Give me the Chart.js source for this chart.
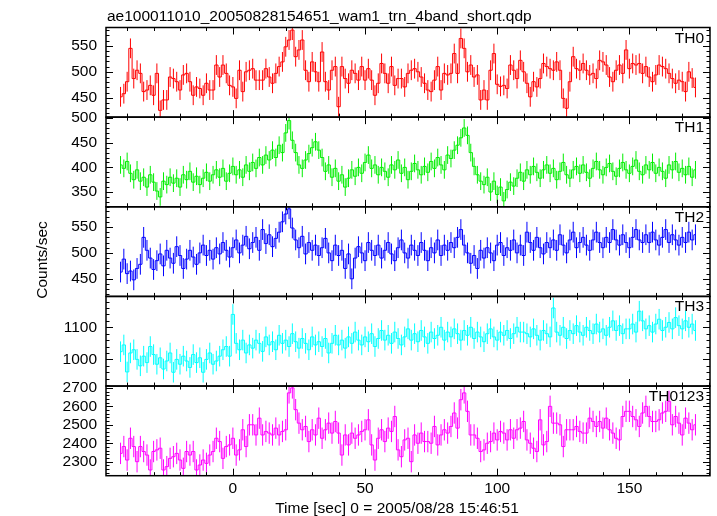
<!DOCTYPE html>
<html>
<head>
<meta charset="utf-8">
<title>WAM light curve</title>
<script src="https://cdn.jsdelivr.net/npm/chart.js@4.4.0/dist/chart.umd.min.js"></script>
<style>
  html, body { margin: 0; padding: 0; background: #fff; }
  canvas { display: block; }
</style>
</head>
<body>
<canvas id="lc" width="717" height="516"></canvas>
<script>
// time binning of the light curve
const T0 = -42.5;   // centre of first bin [s]
const DT = 1.25;    // bin width [s]

// count rates per band [counts/sec]
const TH0 = [
  452,458,481,545,487,503,497,462,465,474, 455,497,426,446,446,490,487,481,465,494,
  497,481,455,471,468,455,478,465,465,513, 490,513,497,474,471,449,503,462,500,503,
  506,484,484,484,506,490,478,497,510,519, 548,561,580,529,542,561,503,481,519,500,
  481,538,481,465,503,510,433,510,487,478, 503,497,484,510,484,506,484,455,478,516,
  497,478,510,474,487,487,471,497,503,506, 500,490,478,465,462,484,510,465,497,494,
  497,535,497,564,545,500,513,490,494,446, 465,446,503,535,476,472,474,468,513,503,
  487,522,500,478,452,481,471,487,516,510, 506,503,519,503,449,430,481,529,506,503,
  516,503,494,497,487,522,519,513,490,481, 503,513,497,542,506,516,513,516,497,510,
  490,481,494,513,510,506,497,487,478,484, 481,462,500,488,470
];
const TH1 = [
  405,398,412,388,375,395,372,380,360,385, 370,352,340,372,365,380,368,378,360,385,
  375,392,370,382,365,378,390,372,385,395, 380,398,372,388,402,385,395,380,405,392,
  410,398,420,405,425,415,435,420,445,430, 470,495,455,430,405,398,415,428,440,452,
  435,420,392,405,380,398,372,385,360,378, 395,382,400,388,410,425,398,405,385,400,
  392,380,405,395,415,388,400,375,392,408, 395,385,402,390,412,398,420,405,395,425,
  418,435,445,460,480,465,430,402,385,372, 365,380,350,372,345,360,332,355,370,362,
  378,390,372,395,385,402,390,378,395,405, 388,398,375,392,410,385,378,395,402,388,
  405,390,378,398,412,395,385,400,408,392, 382,398,410,395,388,402,415,392,385,405,
  395,410,388,400,392,378,405,395,412,390, 398,385,402,380,395
];
const TH2 = [
  463,488,460,465,448,470,478,530,505,490, 468,485,498,475,505,490,480,512,495,470,
  488,505,492,478,500,515,495,505,488,510, 498,520,505,492,510,525,500,515,532,508,
  520,530,505,545,518,535,512,528,540,560, 575,585,548,525,510,532,498,520,505,515,
  495,510,528,500,485,515,495,505,470,498, 450,490,512,500,485,520,505,495,515,490,
  505,520,498,485,510,525,500,490,515,505, 495,520,505,485,510,500,525,495,515,505,
  520,510,530,545,515,500,480,495,470,505, 490,510,500,485,515,520,495,510,505,525,
  500,515,495,540,520,505,530,510,498,520, 510,525,505,535,515,500,525,540,510,520,
  530,515,505,525,540,520,510,530,520,545, 525,515,535,520,510,530,545,525,520,535,
  520,540,525,515,530,545,520,535,525,515, 530,520,540,525,535
];
const TH3 = [
  1024,1045,961,1020,1030,1000,980,1010,990,1040, 1015,985,1005,970,995,1020,960,1000,985,1010,
  995,975,1015,990,1005,960,1000,1020,985,995, 1010,1030,1040,1010,1140,1050,1030,1060,1020,1045,
  1035,1060,1050,1025,1070,1045,1055,1030,1075,1050, 1060,1040,1080,1055,1035,1065,1050,1030,1070,1045,
  1055,1040,1065,1020,1050,1075,1045,1060,1035,1070, 1050,1085,1060,1045,1070,1055,1080,1040,1065,1090,
  1060,1075,1050,1085,1065,1045,1070,1095,1060,1080, 1055,1090,1070,1050,1085,1065,1075,1100,1060,1085,
  1070,1095,1080,1060,1090,1075,1100,1065,1085,1070, 1055,1080,1095,1070,1060,1085,1075,1090,1065,1080,
  1100,1085,1085,1080,1070,1095,1075,1060,1090,1080, 1070,1160,1085,1075,1100,1065,1090,1080,1105,1085,
  1075,1100,1090,1080,1110,1085,1095,1075,1100,1120, 1090,1105,1080,1095,1095,1110,1085,1150,1120,1095,
  1105,1085,1110,1125,1090,1100,1115,1095,1130,1105, 1095,1120,1100,1110,1090
];
const TH0123 = [
  2345,2382,2309,2427,2382,2300,2382,2355,2336,2255, 2355,2364,2373,2255,2273,2318,2327,2345,2309,2264,
  2355,2336,2355,2255,2282,2309,2291,2336,2355,2427, 2409,2318,2382,2391,2427,2336,2364,2473,2382,2500,
  2500,2445,2536,2445,2464,2455,2445,2482,2445,2464, 2473,2673,2700,2582,2509,2473,2491,2409,2473,2445,
  2536,2427,2473,2509,2455,2518,2455,2336,2445,2391, 2455,2427,2445,2464,2473,2527,2391,2309,2427,2473,
  2409,2482,2464,2545,2364,2327,2418,2427,2300,2445, 2400,2455,2409,2409,2400,2491,2391,2445,2473,2455,
  2491,2564,2482,2636,2673,2573,2445,2445,2427,2355, 2364,2400,2409,2455,2418,2464,2455,2418,2473,2427,
  2473,2482,2518,2418,2400,2373,2355,2527,2391,2409, 2600,2509,2509,2500,2382,2473,2473,2473,2491,2464,
  2455,2455,2536,2518,2491,2518,2482,2536,2473,2455, 2427,2418,2545,2573,2573,2545,2527,2491,2564,2600,
  2545,2518,2518,2527,2564,2573,2627,2500,2545,2509, 2445,2536,2509,2473,2500
];

const SERIES = [TH0, TH1, TH2, TH3, TH0123];
const PANEL_NAMES = ['TH0', 'TH1', 'TH2', 'TH3', 'TH0123'];
const ERRORS = [19, 18, 20, 32, 58];   // 1-sigma error per bin

// axis ranges and tick labels
const X_MIN = -48, X_MAX = 180.5;
const X_TICKS = [0, 50, 100, 150];
const Y_MIN = [413, 320, 416, 917, 2224];
const Y_MAX = [585, 502, 589, 1196, 2710];
const Y_TICKS = [
  [450, 500, 550],
  [350, 400, 450, 500],
  [450, 500, 550],
  [1000, 1100],
  [2300, 2400, 2500, 2600, 2700],
];
const Y_MAJOR = [50, 50, 50, 100, 100];
const Y_MINOR = [10, 10, 10, 20, 20];

const COLORS = ['#ff0000', '#00ee00', '#0000ff', '#00ffff', '#ff00ff'];
const FONT_FAMILY = '"Liberation Sans", Arial, Helvetica, sans-serif';
const FONT = { family: FONT_FAMILY, size: 15.5 };
const TEXT_FONT = '15.5px ' + FONT_FAMILY;

const TITLE = 'ae100011010_20050828154651_wam1_trn_4band_short.qdp';
const X_TITLE = 'Time [sec] 0 = 2005/08/28 15:46:51';
const Y_TITLE = 'Counts/sec';

// clip each curve to its own panel and add the vertical error bars
const panelClip = {
    id: 'panelClip',
    beforeDatasetDraw(chart, args) {
        const { ctx, chartArea: a } = chart;
        const ys = chart.scales['y' + args.index];
        ctx.save();
        ctx.beginPath();
        ctx.rect(a.left, ys.top, a.right - a.left, ys.bottom - ys.top);
        ctx.clip();
    },
    afterDatasetDraw(chart, args) {
        const i = args.index;
        const ctx = chart.ctx;
        const xs = chart.scales.x;
        const ys = chart.scales['y' + i];
        ctx.strokeStyle = COLORS[i];
        ctx.lineWidth = 1;
        ctx.beginPath();
        SERIES[i].forEach((v, k) => {
            const px = xs.getPixelForValue(T0 + k * DT);
            ctx.moveTo(px, ys.getPixelForValue(v - ERRORS[i]));
            ctx.lineTo(px, ys.getPixelForValue(v + ERRORS[i]));
        });
        ctx.stroke();
        ctx.restore();
    },
};

// QDP style frame: boxes, inward ticks on all sides, labels and titles
const qdpFrame = {
    id: 'qdpFrame',
    afterDraw(chart) {
        const { ctx, chartArea: a } = chart;
        const xs = chart.scales.x;
        ctx.save();
        ctx.strokeStyle = '#000';
        ctx.fillStyle = '#000';

        PANEL_NAMES.forEach((name, i) => {
            const ys = chart.scales['y' + i];
            const top = ys.top, bot = ys.bottom;
            ctx.lineWidth = 1;
            ctx.beginPath();
            for (let v = Math.ceil(X_MIN / 10) * 10; v <= X_MAX; v += 10) {
                const px = Math.round(xs.getPixelForValue(v)) + 0.5;
                const len = v % 50 === 0 ? 7 : 3.5;
                ctx.moveTo(px, bot); ctx.lineTo(px, bot - len);
                ctx.moveTo(px, top); ctx.lineTo(px, top + len);
            }
            const st = Y_MINOR[i];
            for (let v = Math.ceil(Y_MIN[i] / st) * st; v <= Y_MAX[i]; v += st) {
                const py = Math.round(ys.getPixelForValue(v)) + 0.5;
                const len = v % Y_MAJOR[i] === 0 ? 7 : 3.5;
                ctx.moveTo(a.left, py); ctx.lineTo(a.left + len, py);
                ctx.moveTo(a.right, py); ctx.lineTo(a.right - len, py);
            }
            ctx.stroke();

            ctx.lineWidth = 1.5;
            ctx.strokeRect(a.left, top, a.right - a.left, bot - top);

            ctx.font = TEXT_FONT;
            ctx.textAlign = 'right';
            ctx.textBaseline = 'alphabetic';
            ctx.fillText(name, a.right - 6, top + 15);
        });

        ctx.font = TEXT_FONT;
        ctx.textAlign = 'left';
        ctx.fillText(TITLE, 107, 21);

        ctx.textAlign = 'center';
        ctx.fillText(X_TITLE, 397, 513);

        ctx.translate(47, 260);
        ctx.rotate(-Math.PI / 2);
        ctx.fillText(Y_TITLE, 0, 0);
        ctx.restore();
    },
};

const scales = {
    x: {
        type: 'linear',
        min: X_MIN,
        max: X_MAX,
        grid: { display: false, drawTicks: false },
        border: { display: false },
        afterBuildTicks: sc => { sc.ticks = X_TICKS.map(v => ({ value: v })); },
        afterFit: sc => { sc.height = 40.3; },
        ticks: { color: '#000', font: FONT, padding: 4, maxRotation: 0, autoSkip: false,
                 callback: v => String(v) },
    },
};
// left boxes of a stack are laid out last-defined first, so add the bottom panel first
for (let i = SERIES.length - 1; i >= 0; i--) {
    scales['y' + i] = {
        type: 'linear',
        position: 'left',
        stack: 'panels',
        stackWeight: 1,
        min: Y_MIN[i],
        max: Y_MAX[i],
        grid: { display: false, drawTicks: false },
        border: { display: false },
        afterBuildTicks: sc => { sc.ticks = Y_TICKS[i].map(v => ({ value: v })); },
        afterFit: sc => { sc.width = 106; },
        ticks: { color: '#000', font: FONT, padding: 9, autoSkip: false,
                 callback: v => String(v) },
    };
}

new Chart(document.getElementById('lc'), {
    type: 'line',
    data: {
        datasets: SERIES.map((s, i) => ({
            label: PANEL_NAMES[i],
            data: s.map((v, k) => ({ x: T0 + k * DT, y: v })),
            yAxisID: 'y' + i,
            borderColor: COLORS[i],
            borderWidth: 1,
            pointRadius: 0,
            stepped: 'middle',
            fill: false,
        })),
    },
    options: {
        responsive: false,
        animation: false,
        layout: { padding: { left: 0, right: 7, top: 27.5, bottom: 0 } },
        plugins: { legend: { display: false }, tooltip: { enabled: false } },
        scales,
    },
    plugins: [panelClip, qdpFrame],
});
</script>
</body>
</html>
